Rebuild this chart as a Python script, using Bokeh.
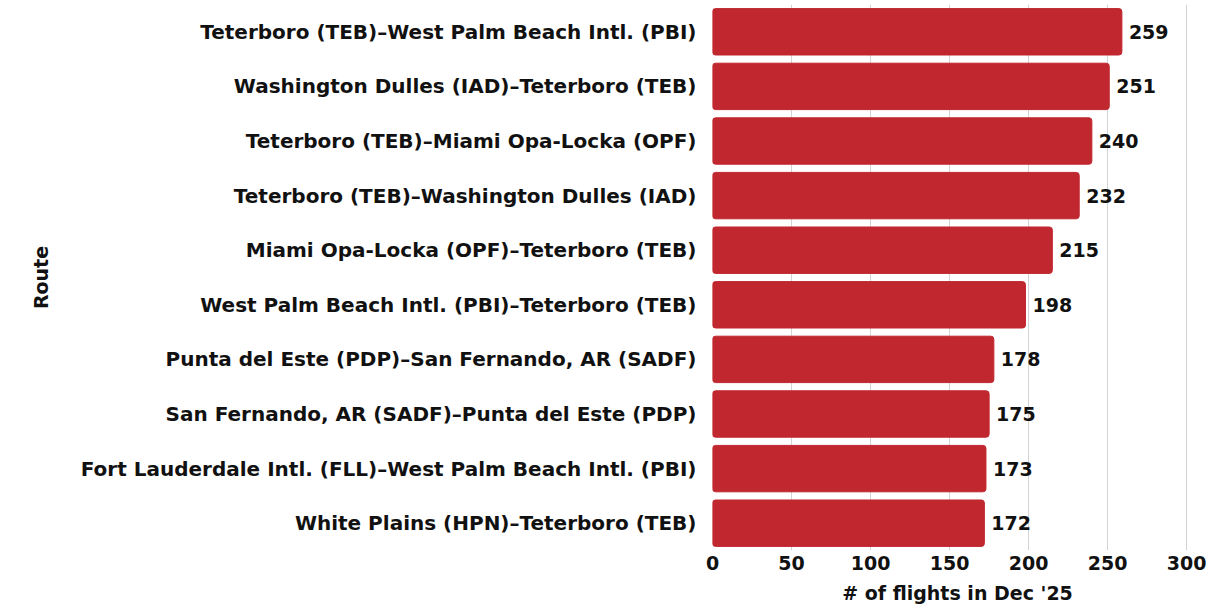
from bokeh.plotting import figure
from bokeh.models import ColumnDataSource, FactorRange, Range1d, FixedTicker
from bokeh.core.properties import value
from bokeh.embed import file_html
from bokeh.resources import INLINE

routes = [
    "Teterboro (TEB)–West Palm Beach Intl. (PBI)",
    "Washington Dulles (IAD)–Teterboro (TEB)",
    "Teterboro (TEB)–Miami Opa-Locka (OPF)",
    "Teterboro (TEB)–Washington Dulles (IAD)",
    "Miami Opa-Locka (OPF)–Teterboro (TEB)",
    "West Palm Beach Intl. (PBI)–Teterboro (TEB)",
    "Punta del Este (PDP)–San Fernando, AR (SADF)",
    "San Fernando, AR (SADF)–Punta del Este (PDP)",
    "Fort Lauderdale Intl. (FLL)–West Palm Beach Intl. (PBI)",
    "White Plains (HPN)–Teterboro (TEB)",
]
flights = [259, 251, 240, 232, 215, 198, 178, 175, 173, 172]
x_ticks = [0, 50, 100, 150, 200, 250, 300]

FONT = "DejaVu Sans"
BAR = "#C1272F"
INK = "#111111"

src = ColumnDataSource(dict(route=routes, flights=flights,
                            label=[str(v) for v in flights]))

p = figure(width=1212, height=606, output_backend="svg", toolbar_location=None,
           y_range=FactorRange(factors=list(reversed(routes)), range_padding=0),
           x_range=Range1d(0, 310),
           min_border_left=712, min_border_right=10, min_border_top=4, min_border_bottom=0)
p.outline_line_color = None
p.background_fill_color = "white"
p.border_fill_color = "white"

p.hbar(y="route", right="flights", height=0.85, source=src, color=BAR,
       border_radius=3)
p.text(x="flights", y="route", text="label", source=src, x_offset=7,
       text_baseline="middle", text_align="left", text_font=value(FONT),
       text_font_style="bold", text_font_size="19px", text_color=INK)

p.xgrid.grid_line_color = "#d4d4d4"
p.xgrid.grid_line_width = 1
p.ygrid.grid_line_color = None
p.xaxis.ticker = FixedTicker(ticks=x_ticks)

for ax in (p.xaxis[0], p.yaxis[0]):
    ax.axis_line_color = None
    ax.major_tick_line_color = None
    ax.minor_tick_line_color = None
    ax.major_tick_out = 0
    ax.major_tick_in = 0
    ax.major_label_text_font = FONT
    ax.major_label_text_font_style = "bold"
    ax.major_label_text_color = INK
    ax.axis_label_text_font = FONT
    ax.axis_label_text_font_style = "bold"
    ax.axis_label_text_color = INK

p.xaxis.major_label_text_font_size = "19px"
p.xaxis.axis_label = "# of flights in Dec '25"
p.xaxis.axis_label_text_font_size = "19px"
p.xaxis.major_label_standoff = 5
p.xaxis.axis_label_standoff = 9

p.yaxis.major_label_text_font_size = "20px"
p.yaxis.axis_label = "Route"
p.yaxis.axis_label_text_font_size = "19px"
p.yaxis.major_label_standoff = 16
p.yaxis.axis_label_standoff = 26

open("out.html", "w").write(file_html(p, INLINE))
